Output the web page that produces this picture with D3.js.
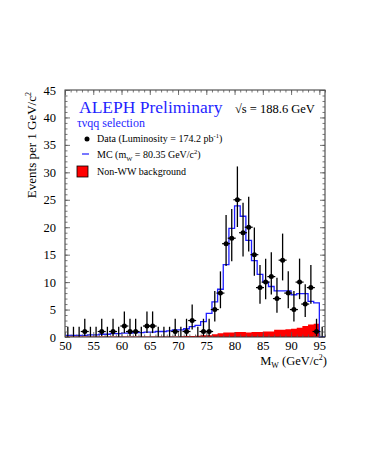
<!DOCTYPE html>
<html lang="en">
<head>
	<meta charset="utf-8">
	<title>ALEPH W mass, tau nu q q</title>
	<script src="https://d3js.org/d3.v7.min.js"></script>
	<style>
		body { margin: 0; background: #fff; }
		text { font-family: "Liberation Serif", "DejaVu Serif", serif; }
	</style>
</head>
<body>
	<script>
    // bins of 1 GeV/c2, lower edges 50 .. 95
    var binLow = d3.range(50, 96);

    var dataCounts = [0, 0, 0, 1, 0, 0, 1, 0, 1, 0,
                      2, 1, 1, 0, 2, 2, 0, 0, 0, 1,
                      0, 1, 3, 0, 1, 1, 5, 8, 17, 18,
                      25, 19, 20, 15, 9, 10, 11, 7, 14, 8,
                      5, 10, 6, 9, 1, 0];

    var mcValues = [0.3, 0.3, 0.3, 0.3, 0.4, 0.4, 0.5, 0.5, 0.6, 0.6,
                    0.7, 0.7, 0.8, 0.8, 0.9, 0.9, 1.0, 1.0, 1.1, 1.3,
                    1.3, 1.5, 1.9, 2.1, 2.8, 4.3, 6.4, 8.7, 13.2, 19.8,
                    23.9, 22.0, 17.6, 13.9, 11.4, 10.0, 9.2, 8.4, 8.4, 8.4,
                    7.7, 7.9, 7.9, 6.5, 6.2, 0];

    var bkgValues = [0.1, 0.1, 0.1, 0.1, 0.1, 0.1, 0.1, 0.1, 0.1, 0.1,
                     0.1, 0.1, 0.1, 0.1, 0.1, 0.1, 0.1, 0.1, 0.1, 0.1,
                     0.15, 0.2, 0.2, 0.25, 0.3, 0.3, 0.5, 0.7, 0.8, 0.8,
                     0.9, 0.9, 0.8, 0.9, 0.9, 1.0, 1.0, 1.3, 1.3, 1.4,
                     1.5, 1.7, 2.0, 2.3, 2.4, 0];

    var xTicks = [50, 55, 60, 65, 70, 75, 80, 85, 90, 95];
    var yTicks = [0, 5, 10, 15, 20, 25, 30, 35, 40, 45];

    var width = 365,
        height = 473;

    var x = d3.scaleLinear().domain([50, 96]).range([65, 325]);
    var y = d3.scaleLinear().domain([0, 45]).range([337, 90]);

    var svg = d3.select("body").append("svg")
        .attr("width", width)
        .attr("height", height);

    // 68% CL Poisson interval (Gehrels approximation)
    function upper(n) { return n + Math.sqrt(n + 0.75) + 1; }
    function lower(n) {
      if (n === 0) return 0;
      return n * Math.pow(1 - 1 / (9 * n) - 1 / (3 * Math.sqrt(n)), 3);
    }

    var bins = binLow.map(function(b, i) {
      return {lo: b, n: dataCounts[i], mc: mcValues[i], bkg: bkgValues[i]};
    });

    // non-WW background
    var area = d3.area()
        .curve(d3.curveStepAfter)
        .x(function(d) { return x(d.lo); })
        .y0(y(0))
        .y1(function(d) { return y(d.bkg); });

    svg.append("path")
        .datum(bins.concat([{lo: 96, bkg: 0}]))
        .attr("fill", "#ff0000")
        .attr("d", area);

    // MC histogram
    var line = d3.line()
        .curve(d3.curveStepAfter)
        .x(function(d) { return x(d.lo); })
        .y(function(d) { return y(d.mc); });

    svg.append("path")
        .datum(bins.concat([{lo: 96, mc: 0}]))
        .attr("fill", "none")
        .attr("stroke", "#1f1fff")
        .attr("stroke-width", 1.3)
        .attr("d", line);

    // data with error bars
    var pts = svg.append("g").selectAll("g")
        .data(bins)
        .enter().append("g");

    pts.append("line")
        .attr("x1", function(d) { return x(d.lo + 0.5); })
        .attr("x2", function(d) { return x(d.lo + 0.5); })
        .attr("y1", function(d) { return y(lower(d.n)); })
        .attr("y2", function(d) { return y(upper(d.n)); })
        .attr("stroke", "#000")
        .attr("stroke-width", 1.3);

    var nonzero = pts.filter(function(d) { return d.n > 0; });

    nonzero.append("line")
        .attr("x1", function(d) { return x(d.lo + 0.5) - 4; })
        .attr("x2", function(d) { return x(d.lo + 0.5) + 4; })
        .attr("y1", function(d) { return y(d.n); })
        .attr("y2", function(d) { return y(d.n); })
        .attr("stroke", "#000")
        .attr("stroke-width", 1.2);

    nonzero.append("circle")
        .attr("cx", function(d) { return x(d.lo + 0.5); })
        .attr("cy", function(d) { return y(d.n); })
        .attr("r", 2.5)
        .attr("fill", "#000");

    // frame and ticks, all pointing inward
    svg.append("rect")
        .attr("x", x(50)).attr("y", y(45))
        .attr("width", x(96) - x(50)).attr("height", y(0) - y(45))
        .attr("fill", "none")
        .attr("stroke", "#333")
        .attr("stroke-width", 1);

    var xMinor = d3.range(50, 97);
    var yMinor = d3.range(0, 46);

    function addAxis(axis, tx, ty) {
      var g = svg.append("g")
          .attr("transform", "translate(" + tx + "," + ty + ")")
          .call(axis);
      g.select(".domain").remove();
      g.selectAll("line").attr("stroke", "#555").attr("stroke-width", 0.8);
      g.selectAll("text")
          .attr("font-family", "Liberation Serif, serif")
          .attr("font-size", 12.5)
          .attr("fill", "#000");
      return g;
    }

    addAxis(d3.axisBottom(x).tickValues(xTicks).tickSize(-5).tickSizeOuter(0).tickPadding(4), 0, y(0));
    addAxis(d3.axisBottom(x).tickValues(xMinor).tickSize(-2.5).tickSizeOuter(0).tickFormat(""), 0, y(0));
    addAxis(d3.axisTop(x).tickValues(xTicks).tickSize(-5).tickSizeOuter(0).tickFormat(""), 0, y(45));
    addAxis(d3.axisTop(x).tickValues(xMinor).tickSize(-2.5).tickSizeOuter(0).tickFormat(""), 0, y(45));
    addAxis(d3.axisLeft(y).tickValues(yTicks).tickSize(-5).tickSizeOuter(0).tickPadding(9), x(50), 0);
    addAxis(d3.axisLeft(y).tickValues(yMinor).tickSize(-2.5).tickSizeOuter(0).tickFormat(""), x(50), 0);
    addAxis(d3.axisRight(y).tickValues(yTicks).tickSize(-5).tickSizeOuter(0).tickFormat(""), x(96), 0);
    addAxis(d3.axisRight(y).tickValues(yMinor).tickSize(-2.5).tickSizeOuter(0).tickFormat(""), x(96), 0);

    // axis titles
    var xt = svg.append("text")
        .attr("x", 327).attr("y", 365)
        .attr("text-anchor", "end")
        .attr("font-size", 12.5);
    xt.append("tspan").text("M");
    xt.append("tspan").attr("dy", 3).attr("font-size", 8).text("W");
    xt.append("tspan").attr("dy", -3).text(" (GeV/c");
    xt.append("tspan").attr("dy", -5).attr("font-size", 8).text("2");
    xt.append("tspan").attr("dy", 5).text(")");

    var yt = svg.append("text")
        .attr("transform", "translate(36,92) rotate(-90)")
        .attr("text-anchor", "end")
        .attr("font-size", 13);
    yt.append("tspan").text("Events per 1 GeV/c");
    yt.append("tspan").attr("dy", -5).attr("font-size", 8).text("2");

    // header text
    svg.append("text")
        .attr("x", 79).attr("y", 113)
        .attr("font-size", 17.5)
        .attr("fill", "#1f1fff")
        .text("ALEPH Preliminary");

    svg.append("text")
        .attr("x", 235).attr("y", 113)
        .attr("font-size", 12.5)
        .text("\u221As = 188.6 GeV");

    svg.append("text")
        .attr("x", 77).attr("y", 127)
        .attr("font-size", 12)
        .attr("fill", "#1f1fff")
        .text("\u03C4\u03BDqq selection");

    // legend
    svg.append("circle")
        .attr("cx", 87).attr("cy", 139)
        .attr("r", 2.5)
        .attr("fill", "#000");

    var l1 = svg.append("text")
        .attr("x", 97).attr("y", 142)
        .attr("font-size", 10);
    l1.append("tspan").text("Data  (Luminosity = 174.2 pb");
    l1.append("tspan").attr("dy", -4).attr("font-size", 6.5).text("-1");
    l1.append("tspan").attr("dy", 4).text(")");

    svg.append("line")
        .attr("x1", 82).attr("x2", 89)
        .attr("y1", 154).attr("y2", 154)
        .attr("stroke", "#1f1fff")
        .attr("stroke-width", 1.2);

    var l2 = svg.append("text")
        .attr("x", 97).attr("y", 158)
        .attr("font-size", 10);
    l2.append("tspan").text("MC (m");
    l2.append("tspan").attr("dy", 2.5).attr("font-size", 6.5).text("W");
    l2.append("tspan").attr("dy", -2.5).text(" = 80.35 GeV/c");
    l2.append("tspan").attr("dy", -4).attr("font-size", 6.5).text("2");
    l2.append("tspan").attr("dy", 4).text(")");

    svg.append("rect")
        .attr("x", 77).attr("y", 166)
        .attr("width", 11).attr("height", 11)
        .attr("fill", "#ff0000")
        .attr("stroke", "#000")
        .attr("stroke-width", 0.8);

    svg.append("text")
        .attr("x", 97).attr("y", 175)
        .attr("font-size", 10)
        .text("Non-WW background");
	</script>
</body>
</html>
